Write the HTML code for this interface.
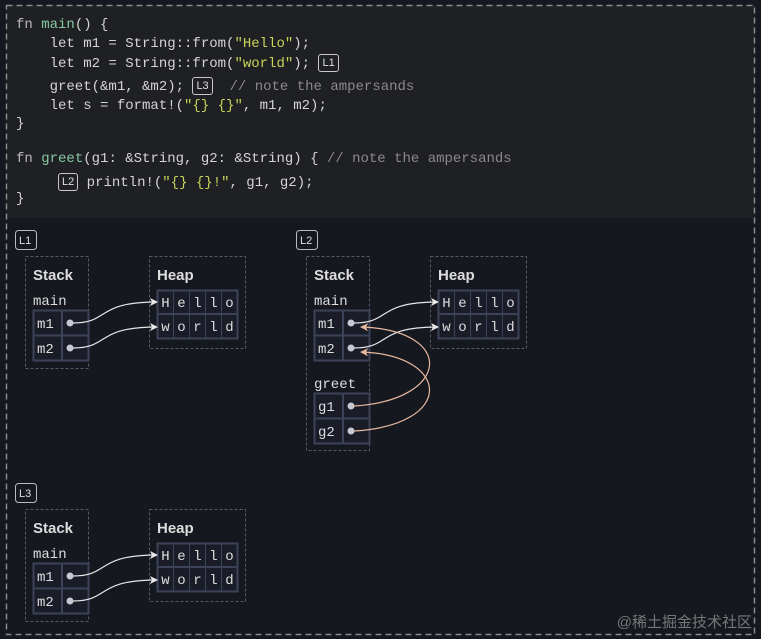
<!DOCTYPE html>
<html><head><meta charset="utf-8"><style>
html,body{margin:0;padding:0;background:#161820;width:761px;height:639px;overflow:hidden}
.code{position:absolute;left:6px;top:5px;width:749px;height:213px;background:#1f2023}
.l{position:absolute;left:16px;margin:0;white-space:pre;font:14px/20px "Liberation Mono",monospace;color:#d4d4d4}
.k{color:#b8b8b8}.f{color:#86c9a0}.s{color:#c9d35a}.c{color:#8a8a8a}
.b{display:inline-block;border:1px solid #c8c8c8;border-radius:3px;font:11px/16px "Liberation Sans",sans-serif;padding:0 3px;color:#ddd;vertical-align:1px}
svg{position:absolute;left:0;top:0}
</style></head><body>
<div class="code"></div>
<div class="l" style="top:15px"><span class="k">fn</span> <span class="f">main</span>() {</div>
<div class="l" style="top:34px">    let m1 = String::from(<span class="s">"Hello"</span>);</div>
<div class="l" style="top:54px">    let m2 = String::from(<span class="s">"world"</span>); <span class="b">L1</span></div>
<div class="l" style="top:77px">    greet(&amp;m1, &amp;m2); <span class="b">L3</span>  <span class="c">// note the ampersands</span></div>
<div class="l" style="top:96px">    let s = format!(<span class="s">"{} {}"</span>, m1, m2);</div>
<div class="l" style="top:114px">}</div>
<div class="l" style="top:149px"><span class="k">fn</span> <span class="f">greet</span>(g1: &amp;String, g2: &amp;String) { <span class="c">// note the ampersands</span></div>
<div class="l" style="top:173px">     <span class="b">L2</span> println!(<span class="s">"{} {}!"</span>, g1, g2);</div>
<div class="l" style="top:189px">}</div>
<svg width="761" height="639" font-family="Liberation Mono, monospace">
<defs>
<marker id="aw" markerWidth="8" markerHeight="8" refX="7" refY="4" orient="auto" markerUnits="userSpaceOnUse"><path d="M0,0 L8,4 L0,8 L2,4z" fill="#e8e8e8"/></marker>
<marker id="ap" markerWidth="8" markerHeight="8" refX="7" refY="4" orient="auto" markerUnits="userSpaceOnUse"><path d="M0,0 L8,4 L0,8 L2,4z" fill="#e8b9a0"/></marker>
<g id="inner">
<text x="33" y="280" font-family="Liberation Sans, sans-serif" font-weight="bold" font-size="15" fill="#ddd">Stack</text>
<text x="33" y="305" font-size="14" fill="#ddd">main</text>
<rect x="33.5" y="310.5" width="55" height="50" fill="#1a1d27" stroke="#3c4258" stroke-width="2"/>
<line x1="33" y1="335.5" x2="88" y2="335.5" stroke="#3c4258" stroke-width="2"/>
<line x1="62" y1="310" x2="62" y2="360" stroke="#3c4258" stroke-width="2"/>
<text x="37" y="328" font-size="14" fill="#ddd">m1</text>
<text x="37" y="353" font-size="14" fill="#ddd">m2</text>
<circle cx="70" cy="323" r="3.5" fill="#c8c8d0"/><circle cx="70" cy="348" r="3.5" fill="#c8c8d0"/>
</g>
<g id="blk">
<rect x="25.5" y="256.5" width="63" height="112" fill="none" stroke="#555a66" stroke-dasharray="3,2"/>
<use href="#inner"/>
</g>
<g id="hp">
<rect x="149.5" y="256.5" width="96" height="92" fill="none" stroke="#555a66" stroke-dasharray="3,2"/>
<text x="157" y="280" font-family="Liberation Sans, sans-serif" font-weight="bold" font-size="15" fill="#ddd">Heap</text>
<rect x="157.5" y="290.5" width="80" height="48" fill="#1a1d27" stroke="#3c4258" stroke-width="2"/>
<line x1="157" y1="314" x2="237" y2="314" stroke="#3c4258" stroke-width="2"/>
<g stroke="#3c4258" stroke-width="1"><line x1="173.5" y1="290" x2="173.5" y2="338"/><line x1="189.5" y1="290" x2="189.5" y2="338"/><line x1="205.5" y1="290" x2="205.5" y2="338"/><line x1="221.5" y1="290" x2="221.5" y2="338"/></g>
<g font-size="14" fill="#ddd" text-anchor="middle">
<text x="165.5" y="307">H</text><text x="181.5" y="307">e</text><text x="197.5" y="307">l</text><text x="213.5" y="307">l</text><text x="229.5" y="307">o</text>
<text x="165.5" y="331">w</text><text x="181.5" y="331">o</text><text x="197.5" y="331">r</text><text x="213.5" y="331">l</text><text x="229.5" y="331">d</text>
</g>
</g>
<g id="ar" fill="none" stroke="#e8e8e8" stroke-width="1.2">
<path d="M73,323 C110,323 95,302 157,302" marker-end="url(#aw)"/>
<path d="M73,348 C110,348 95,327 157,327" marker-end="url(#aw)"/>
</g>
</defs>
<g font-family="Liberation Sans, sans-serif" font-size="11" fill="#ddd">
<rect x="15.5" y="230.5" width="21" height="19" rx="3" fill="none" stroke="#bbb"/><text x="19" y="244">L1</text>
<rect x="296.5" y="230.5" width="21" height="19" rx="3" fill="none" stroke="#bbb"/><text x="300" y="244">L2</text>
<rect x="15.5" y="483.5" width="21" height="19" rx="3" fill="none" stroke="#bbb"/><text x="19" y="497">L3</text>
</g>
<use href="#blk"/><use href="#hp"/><use href="#ar"/>
<g transform="translate(0,253)"><use href="#blk"/><use href="#hp"/><use href="#ar"/></g>
<g transform="translate(281,0)">
<rect x="25.5" y="256.5" width="63" height="194" fill="none" stroke="#555a66" stroke-dasharray="3,2"/>
<use href="#inner"/>
<text x="33" y="388" font-size="14" fill="#ddd">greet</text>
<rect x="33.5" y="393.5" width="55" height="50" fill="#1a1d27" stroke="#3c4258" stroke-width="2"/>
<line x1="33" y1="418.5" x2="88" y2="418.5" stroke="#3c4258" stroke-width="2"/>
<line x1="62" y1="393" x2="62" y2="443" stroke="#3c4258" stroke-width="2"/>
<text x="37" y="411" font-size="14" fill="#ddd">g1</text>
<text x="37" y="436" font-size="14" fill="#ddd">g2</text>
<circle cx="70" cy="406" r="3.5" fill="#c8c8d0"/><circle cx="70" cy="431" r="3.5" fill="#c8c8d0"/>
<use href="#hp"/><use href="#ar"/>
<g fill="none" stroke="#e8b9a0" stroke-width="1.2">
<path d="M73,406 C170,400 175,330 80,327" marker-end="url(#ap)"/>
<path d="M73,431 C175,425 170,355 80,352" marker-end="url(#ap)"/>
</g>
</g>
<rect x="6.5" y="5.5" width="748" height="629" fill="none" stroke="#8a8a8a" stroke-width="1.5" stroke-dasharray="6,4"/>
<text x="752" y="627" text-anchor="end" font-family="Liberation Sans, Noto Sans CJK SC, sans-serif" font-size="15" fill="#777">@稀土掘金技术社区</text>
</svg>
</body></html>
